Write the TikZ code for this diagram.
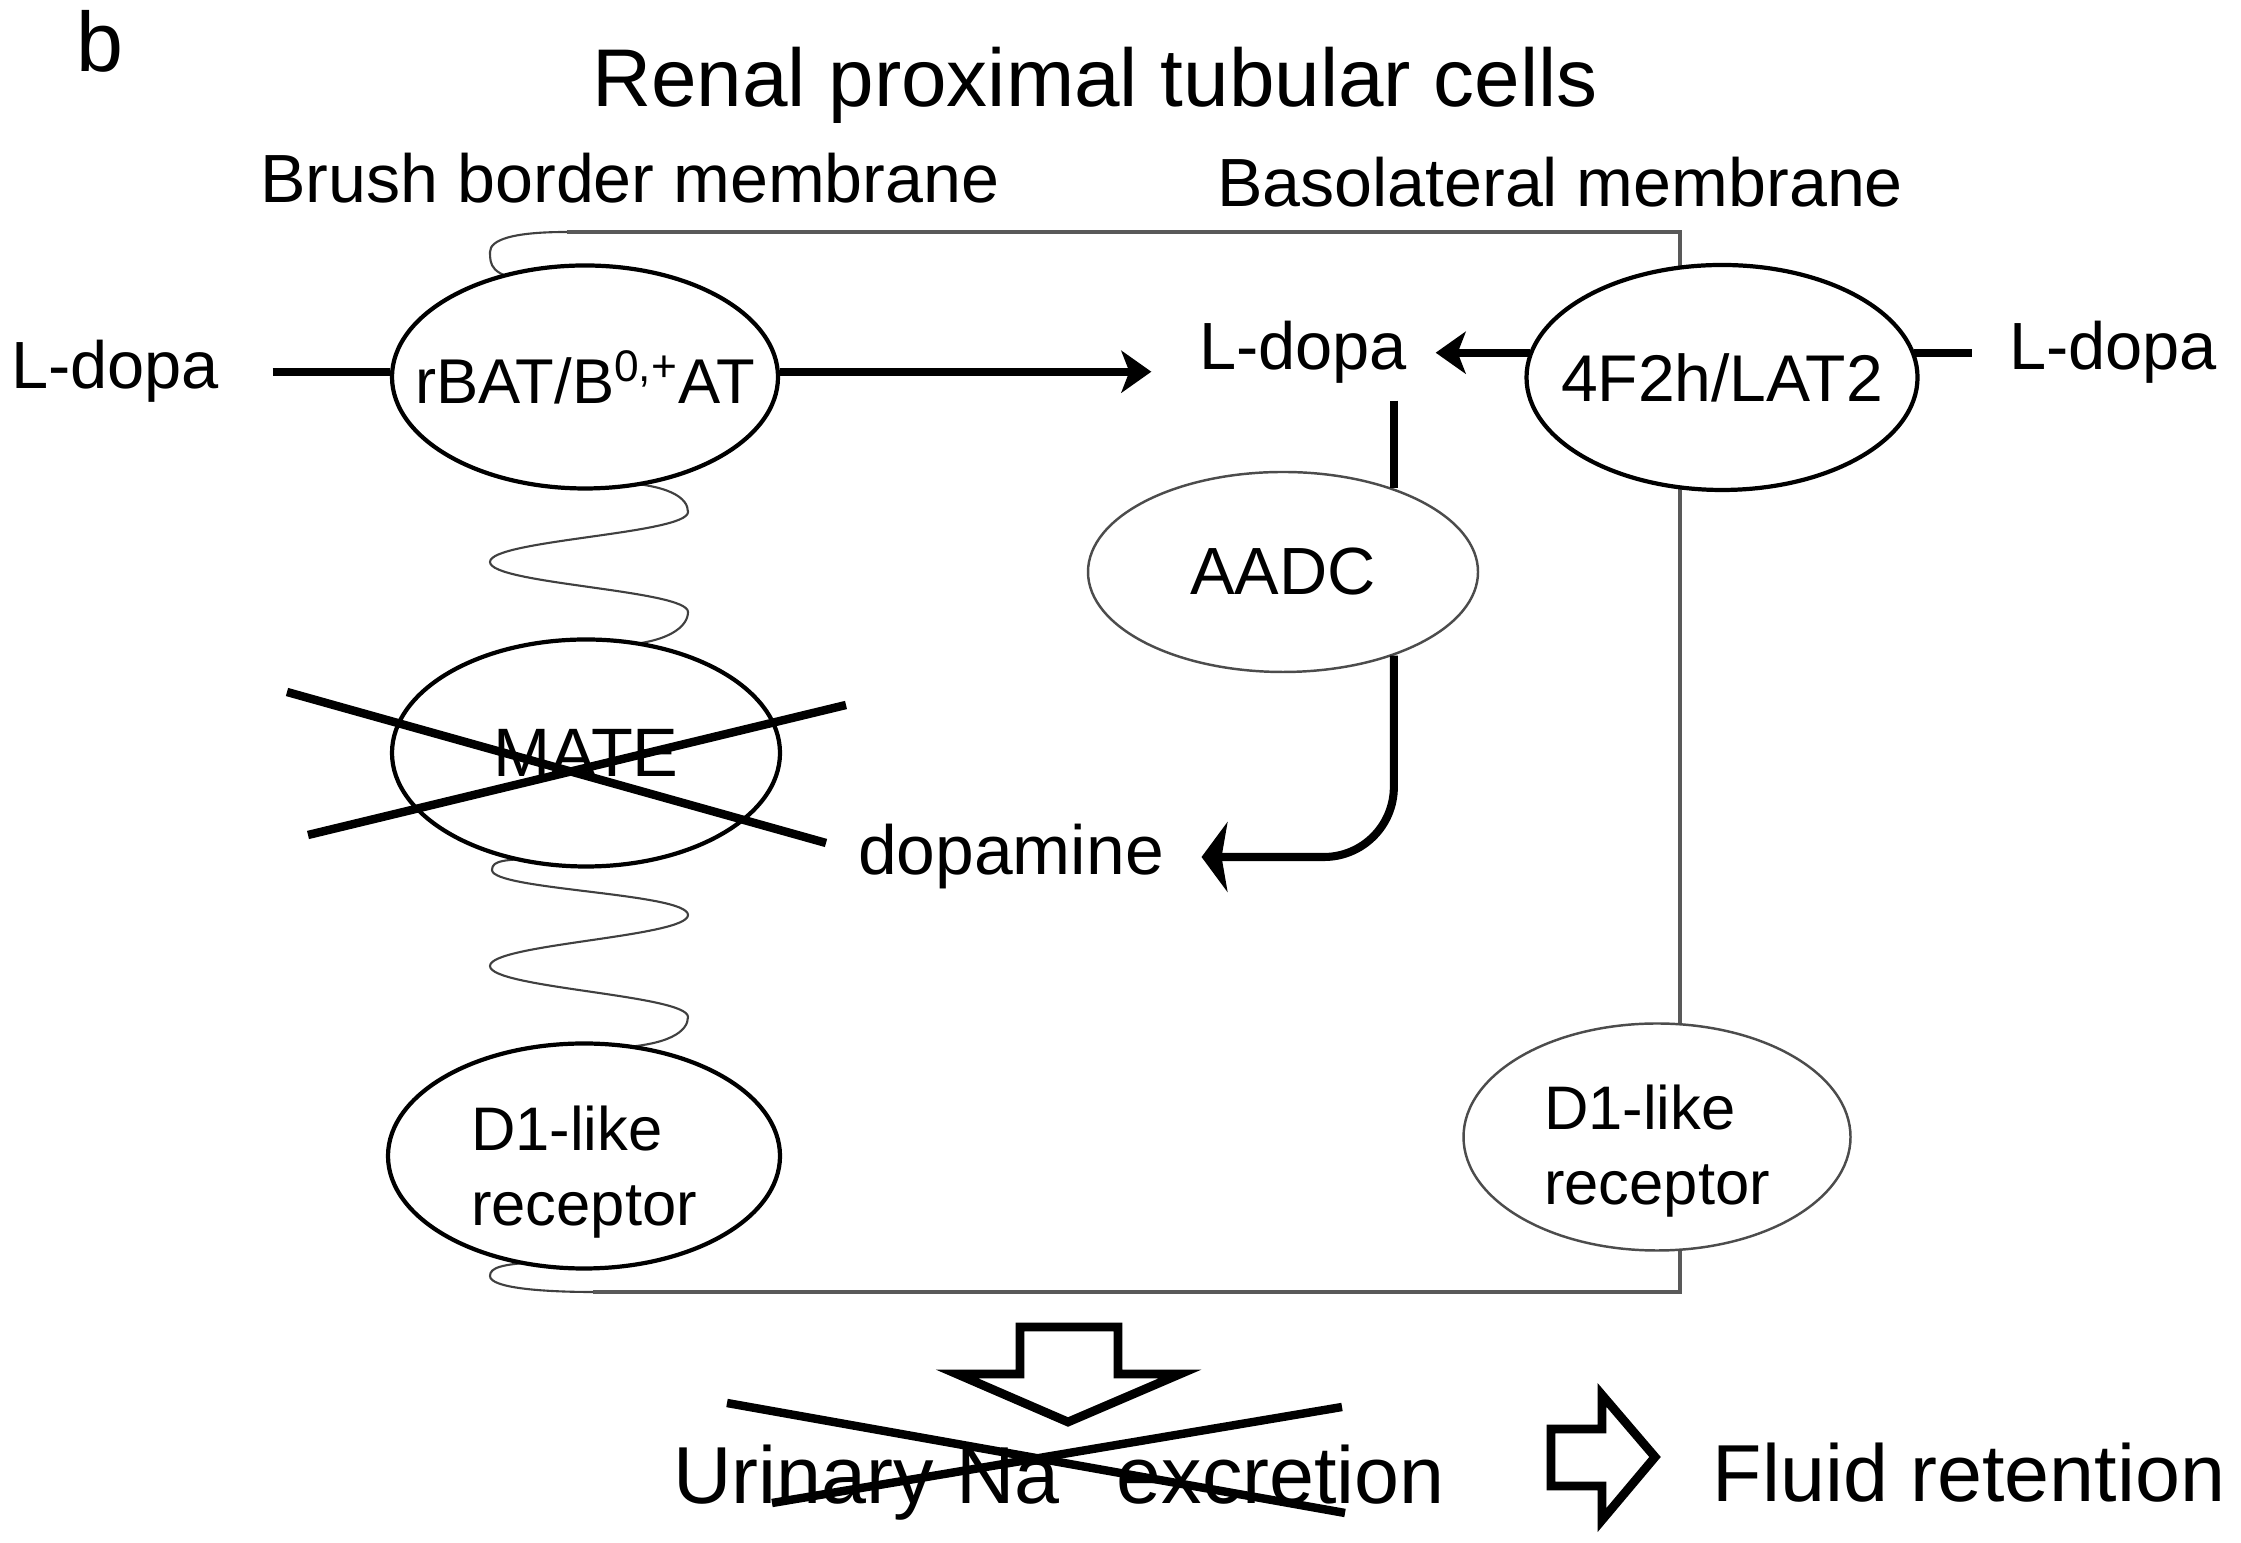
\documentclass[tikz,border=0pt]{standalone}
\usepackage{fontspec}
\setmainfont{Liberation Sans}
\usetikzlibrary{arrows.meta}
\usetikzlibrary{shapes.geometric}

\tikzset{
  memline/.style={line width=1pt, black!65},
  coil/.style={line width=0.6pt, black!75},
  prot/.style={ellipse, draw, line width=1.2pt, fill=white, inner sep=0pt},
  enz/.style={ellipse, draw=black!70, line width=0.7pt, fill=white, inner sep=0pt},
  intext/.style={font=\fontsize{18pt}{21.5pt}\selectfont, inner sep=0pt, align=left},
  conn/.style={line width=2.3pt},
  arr/.style={line width=2.3pt, -{Stealth[length=3mm,width=4.2mm,inset=0.8mm]}},
  bigarr/.style={line width=2.3pt, -{Stealth[length=2.6mm,width=7mm,inset=0.6mm]}},
  cross/.style={line width=2.4pt},
  blockarr/.style={line width=2.5pt, miter limit=10},
  lbl/.style={font=\fontsize{19.4pt}{23pt}\selectfont, inner sep=0pt, anchor=base},
  big/.style={font=\fontsize{23pt}{27pt}\selectfont, inner sep=0pt, anchor=base},
}

\begin{document}
\begin{tikzpicture}
\useasboundingbox (0,0) rectangle (22.41,15.42);

% cell outline
\draw[memline] (5.67,13.10) -- (16.80,13.10) -- (16.80,2.50) -- (5.93,2.50);

% brush border coils
\draw[coil] (5.67,13.10) .. controls +(-0.55,0) and +(0,0.12) .. (4.90,12.90)
  .. controls +(0,-0.12) and +(-0.4,0.03) .. (5.30,12.62);
\draw[coil] (6.10,10.60) .. controls +(0.6,-0.02) and +(0,0.14) .. (6.88,10.30)
  .. controls +(0,-0.22) and +(0,0.22) .. (4.90,9.80)
  .. controls +(0,-0.22) and +(0,0.22) .. (6.88,9.30)
  .. controls +(0,-0.14) and +(0.6,0.02) .. (6.10,8.96);
\draw[coil] (5.40,6.84) .. controls +(-0.35,-0.02) and +(0,0.10) .. (4.92,6.72)
  .. controls +(0,-0.2) and +(0,0.22) .. (6.88,6.27)
  .. controls +(0,-0.22) and +(0,0.22) .. (4.90,5.76)
  .. controls +(0,-0.22) and +(0,0.22) .. (6.88,5.25)
  .. controls +(0,-0.14) and +(0.6,0.02) .. (6.10,4.94);
\draw[coil] (5.40,2.80) .. controls +(-0.4,-0.02) and +(0,0.08) .. (4.90,2.66)
  .. controls +(0,-0.12) and +(-0.5,0) .. (5.93,2.50);

% proteins
\node[prot, minimum width=3.86cm, minimum height=2.23cm,
  label={[intext]center:rBAT/B\textsuperscript{0,+}AT}] (rbat) at (5.85,11.65) {};
\node[prot, minimum width=3.88cm, minimum height=2.27cm,
  label={[intext, font=\fontsize{19.5pt}{23pt}\selectfont]center:MATE}] (mate) at (5.86,7.89) {};
\node[prot, minimum width=3.92cm, minimum height=2.25cm,
  label={[intext, font=\fontsize{17.5pt}{21.3pt}\selectfont, yshift=-1.6mm]center:D1-like\\receptor}] (d1l) at (5.84,3.86) {};
\node[prot, minimum width=3.91cm, minimum height=2.25cm,
  label={[intext, font=\fontsize{18.8pt}{22pt}\selectfont]center:4F2h/LAT2}] (f2h) at (17.22,11.645) {};
\node[enz, minimum width=3.90cm, minimum height=2.0cm,
  label={[intext, font=\fontsize{19pt}{23pt}\selectfont]center:AADC}] (aadc) at (12.83,9.70) {};
\node[enz, minimum width=3.87cm, minimum height=2.27cm,
  label={[intext, font=\fontsize{17.5pt}{21.3pt}\selectfont, yshift=-1.4mm]center:D1-like\\receptor}] (d1r) at (16.57,4.05) {};

% texts
\node[lbl, font=\fontsize{24pt}{28pt}\selectfont] (panel) at (1.00,14.70) {b};
\node[big, font=\fontsize{23.3pt}{27pt}\selectfont] (title) at (10.95,14.35) {Renal proximal tubular cells};
\node[lbl] (brush) at (6.30,13.39) {Brush border membrane};
\node[lbl] (baso) at (15.60,13.35) {Basolateral membrane};
\node[lbl, font=\fontsize{19pt}{23pt}\selectfont] (ldopaL) at (1.15,11.53) {L-dopa};
\node[lbl, font=\fontsize{19pt}{23pt}\selectfont] (ldopaC) at (13.03,11.72) {L-dopa};
\node[lbl, font=\fontsize{19pt}{23pt}\selectfont] (ldopaR) at (21.13,11.72) {L-dopa};
\node[lbl, font=\fontsize{19.8pt}{23pt}\selectfont] (dopa) at (10.11,6.67) {dopamine};
\node[big] (urin) at (10.59,0.39) {Urinary Na\phantom{\textsuperscript{+}} excretion};
\node[big] (fluid) at (19.69,0.40) {Fluid retention};

% transport
\draw[conn, shorten <=5.3mm] (ldopaL.east) -- (ldopaL.east -| rbat.west);
\draw[arr, shorten >=4.7mm] (rbat.east |- ldopaL.east) -- (ldopaC.west |- ldopaL.east);
\draw[arr, shorten <=-0.6mm, shorten >=2.8mm] (ldopaR.west -| f2h.west) -- (ldopaC.east |- ldopaR.west);
\draw[conn, shorten <=-0.6mm, shorten >=3.6mm] (ldopaR.west -| f2h.east) -- (ldopaR.west);

% decarboxylation
\path (aadc.37 |- ldopaC.south) ++(0,-0.16) coordinate (ctop);
\draw[conn] (ctop) -- (aadc.37);
\draw[bigarr, rounded corners=0.7cm, shorten >=3.7mm] (aadc.-37) |- (dopa.east);

% blocked
\draw[cross] ([shift={(-2.99,0.61)}]mate.center) -- ([shift={(2.40,-0.90)}]mate.center);
\draw[cross] ([shift={(-2.78,-0.82)}]mate.center) -- ([shift={(2.60,0.48)}]mate.center);

% outcome
\draw[blockarr] (10.20,2.15) -- (11.18,2.15) -- (11.18,1.68) -- (11.80,1.68)
  -- (10.68,1.20) -- (9.57,1.68) -- (10.20,1.68) -- cycle;
\draw[cross] (7.27,1.39) -- (13.45,0.29);
\draw[cross] (7.72,0.39) -- (13.42,1.35);
\draw[blockarr] (15.51,1.13) -- (16.02,1.13) -- (16.02,1.47) -- (16.55,0.85)
  -- (16.02,0.22) -- (16.02,0.56) -- (15.51,0.56) -- cycle;

\end{tikzpicture}
\end{document}
